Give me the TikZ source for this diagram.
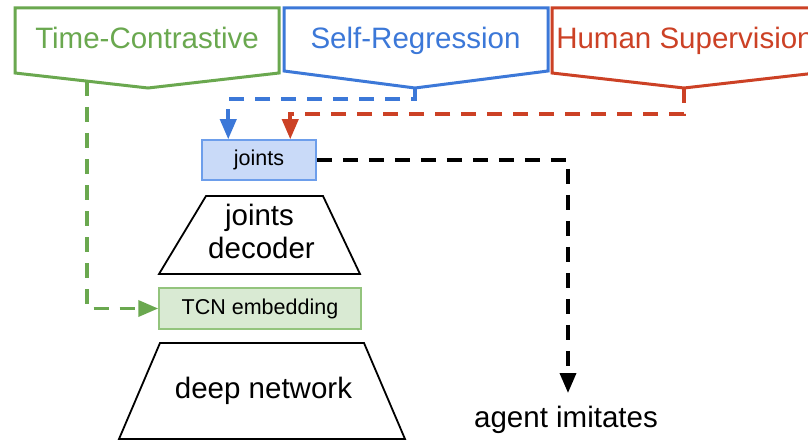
\documentclass[tikz,border=0pt]{standalone}
\usepackage{fontspec}
\setmainfont{Liberation Sans}
\usetikzlibrary{arrows.meta}
\definecolor{tcgreen}{HTML}{6AA84F}
\definecolor{srblue}{HTML}{3C78D8}
\definecolor{hsred}{HTML}{CC4125}
\definecolor{jfill}{HTML}{C9DAF8}
\definecolor{jdraw}{HTML}{6D9EEB}
\definecolor{tfill}{HTML}{D9EAD3}
\definecolor{tdraw}{HTML}{93C47D}
\begin{document}
\begin{tikzpicture}[x=1pt,y=-1pt,
 big/.style={font=\fontsize{29.5}{33}\selectfont, inner sep=0pt, anchor=base},
 smallbox/.style={font=\fontsize{21.5}{24}\selectfont, inner sep=0pt, line width=1.5pt},
 pent/.style={line width=3pt, line join=miter},
 trap/.style={draw=black, line width=1.8pt, line join=miter},
 conn/.style={line width=3.6pt, dash pattern=on 15pt off 11pt, -{Triangle[length=20pt,width=16pt]}},
]
\clip (0,0) rectangle (808,441);
\fill[white] (0,0) rectangle (808,441);

% source pentagons
\draw[pent, tcgreen] (15,8) -- (279,8) -- (279,73) -- (148,88) -- (15,73) -- cycle;
\node[big, text=tcgreen] (tc) at (147,49) {Time-Contrastive};
\draw[pent, srblue] (284,8) -- (548,8) -- (548,71) -- (415,88) -- (284,71) -- cycle;
\node[big, text=srblue] (sr) at (415.5,49) {Self-Regression};
\draw[pent, hsred] (552,8) -- (816,8) -- (816,73) -- (684,88) -- (552,73) -- cycle;
\node[big, text=hsred] (hs) at (685,49) {Human Supervision};

\coordinate (tcs) at (87,81);
\coordinate (srp) at (415,88);
\coordinate (hsp) at (684,88);

% joints box
\node[smallbox, draw=jdraw, fill=jfill, minimum width=114pt, minimum height=40pt] (joints) at (259,160) {joints};

% joints decoder
\draw[trap] (206,196) -- (323,196) -- (360,274) -- (159,274) -- cycle;
\node[big] (jd1) at (259.5,225) {joints};
\node[big] (jd2) at (261.5,258) {decoder};

% TCN embedding
\node[smallbox, draw=tdraw, fill=tfill, minimum width=202pt, minimum height=41pt] (tcn) at (260,308.5) {TCN embedding};

% deep network
\draw[trap] (160,343) -- (364,343) -- (405,439) -- (119,439) -- cycle;
\node[big] (dn) at (263.5,398) {deep network};

% agent imitates
\coordinate (aitip) at (568,393);
\node[big] (ai) at (566,427) {agent imitates};

% connectors
\draw[conn, tcgreen] (tcs) |- (tcn.west);
\draw[conn, srblue] (srp) -- (415,99) -| ([xshift=27pt]joints.north west);
\draw[conn, hsred] (hsp) -- (684,114) -| ([xshift=89pt]joints.north west);
\draw[conn, black] (joints.east) -| (aitip);
\end{tikzpicture}
\end{document}
